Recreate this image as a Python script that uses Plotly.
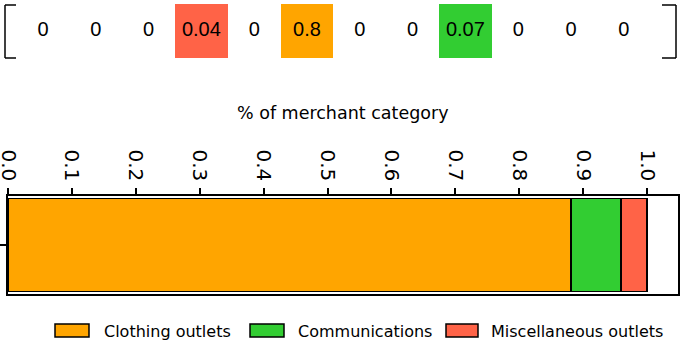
import plotly.graph_objects as go

# ---- data ----
vector_values = [0, 0, 0, 0.04, 0, 0.8, 0, 0, 0.07, 0, 0, 0]
vector_labels = ["0", "0", "0", "0.04", "0", "0.8", "0", "0", "0.07", "0", "0", "0"]
categories = ["Clothing outlets", "Communications", "Miscellaneous outlets"]
category_index = [5, 8, 3]
share = [0.881, 0.078, 0.041]
colors = ["#FFA500", "#32CD32", "#FF6347"]
xtick_vals = [0.0, 0.1, 0.2, 0.3, 0.4, 0.5, 0.6, 0.7, 0.8, 0.9, 1.0]
xtick_text = ["0.0", "0.1", "0.2", "0.3", "0.4", "0.5", "0.6", "0.7", "0.8", "0.9", "1.0"]

W, H = 685, 340
def px(x):
    return x / W
def py(y):
    return (H - y) / H

fig = go.Figure()

# stacked bar
for name, v, c in zip(categories, share, colors):
    fig.add_trace(go.Bar(
        x=[v], y=[0], orientation="h", name=name, width=0.95,
        marker=dict(color=c, line=dict(color="black", width=1.5)),
        showlegend=False, hoverinfo="skip", xaxis="x", yaxis="y"))

# vector row: colored cells
fig.add_trace(go.Bar(
    x=category_index, y=[1.0] * len(category_index), base=-0.5, width=1.0,
    marker=dict(color=colors, line=dict(width=0)),
    showlegend=False, hoverinfo="skip", xaxis="x2", yaxis="y2"))
fig.add_trace(go.Scatter(
    x=list(range(len(vector_values))), y=[0] * len(vector_values),
    mode="text", text=vector_labels,
    textfont=dict(family="Liberation Sans, Arial", size=20, color="black"),
    showlegend=False, hoverinfo="skip", xaxis="x2", yaxis="y2"))

shapes = []
# brackets
lw = 1.5
for (x0, x1, xv) in [(5, 16, 5), (662, 676, 676)]:
    shapes.append(dict(type="line", xref="paper", yref="paper", x0=px(xv), x1=px(xv), y0=py(5), y1=py(58), line=dict(color="black", width=lw)))
    shapes.append(dict(type="line", xref="paper", yref="paper", x0=px(x0), x1=px(x1), y0=py(5), y1=py(5), line=dict(color="black", width=lw)))
    shapes.append(dict(type="line", xref="paper", yref="paper", x0=px(x0), x1=px(x1), y0=py(58), y1=py(58), line=dict(color="black", width=lw)))

annotations = [dict(text="% of merchant category", xref="paper", yref="paper",
                    x=px(343), y=py(113), showarrow=False, xanchor="center", yanchor="middle",
                    font=dict(family="DejaVu Sans", size=17.5, color="black"))]

# custom legend
leg = [(55, 89, 102), (250, 284, 296), (446, 478, 489)]
for (s0, s1, tx), name, c in zip(leg, categories, colors):
    shapes.append(dict(type="rect", xref="paper", yref="paper", x0=px(s0), x1=px(s1),
                       y0=py(337), y1=py(324), fillcolor=c, line=dict(color="black", width=1.5)))
    annotations.append(dict(text=name, xref="paper", yref="paper", x=px(tx), y=py(331),
                            xanchor="left", yanchor="middle", showarrow=False,
                            font=dict(family="DejaVu Sans", size=16, color="black")))

fig.update_layout(
    width=W, height=H, margin=dict(l=0, r=0, t=0, b=0, autoexpand=False),
    barmode="stack", plot_bgcolor="white", paper_bgcolor="white",
    shapes=shapes, annotations=annotations,
    xaxis=dict(domain=[px(8), px(678)], range=[0, 670 / 639], side="top",
               tickvals=xtick_vals, ticktext=xtick_text, tickangle=90,
               ticks="outside", ticklen=6, tickwidth=1.5, tickcolor="black",
               ticklabeloverflow="allow", automargin=False,
               showline=True, linecolor="black", linewidth=1.5, mirror=True,
               showgrid=False, zeroline=False,
               tickfont=dict(family="DejaVu Sans", size=20, color="black"),
               anchor="y"),
    yaxis=dict(domain=[py(294), py(196)], range=[-0.5, 0.5], automargin=False,
               tickvals=[0], ticktext=[""], ticks="outside", ticklen=6, tickwidth=1.5,
               tickcolor="black", showline=True, linecolor="black", linewidth=1.5,
               mirror=True, showgrid=False, zeroline=False, anchor="x"),
    xaxis2=dict(domain=[0, 1], range=[-43 / 52.8, (685 - 43) / 52.8], visible=False,
                automargin=False, anchor="y2"),
    yaxis2=dict(domain=[py(58), py(4)], range=[-0.5, 0.5], visible=False,
                automargin=False, anchor="x2"),
)

fig.write_html("out.html", config={"displayModeBar": False},
               post_script="document.body.style.margin='0';document.body.style.overflow='hidden';")
